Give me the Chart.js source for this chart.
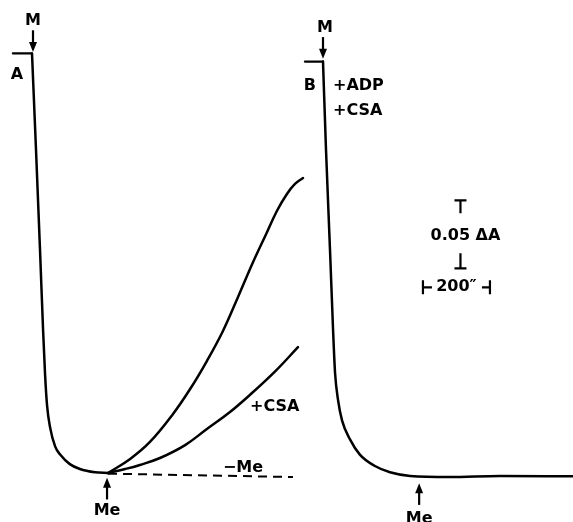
<!DOCTYPE html>
<html><head><meta charset="utf-8">
<script src="https://cdn.jsdelivr.net/npm/chart.js@4/dist/chart.umd.min.js"></script>
<style>html,body{margin:0;padding:0;background:#fff}#wrap{width:573px;height:522px}</style>
</head><body><div id="wrap"><canvas id="c" width="573" height="522"></canvas></div>
<script>
// ---- Data (time in s after M addition, absorbance change ΔA) ----
// Panel A: baseline before M, then decay after M
const timeBaseA = [-57, 0];
const absBaseA  = [0.310, 0.310];
const timeA   = [0, 12, 24, 33, 39, 45, 54, 69, 84, 113, 143, 188, 227];
const absA    = [0.310, 0.239, 0.165, 0.107, 0.074, 0.051, 0.035, 0.021, 0.015, 0.008, 0.0044, 0.002, 0.0015];
// Panel A, + Me (no inhibitor)
const timeMe  = [227, 293, 352, 421, 472, 522, 570, 615, 660, 699, 731, 761, 785, 809];
const absMe   = [0.0015, 0.0118, 0.0243, 0.0449, 0.0632, 0.0838, 0.1059, 0.1309, 0.1566, 0.1772, 0.1941, 0.2066, 0.2140, 0.2184];
// Panel A, + Me + CSA
const timeCSA = [227, 278, 322, 382, 457, 522, 591, 651, 725, 794];
const absCSA  = [0.0015, 0.0044, 0.0074, 0.0125, 0.022, 0.0338, 0.0463, 0.059, 0.076, 0.094];
// Panel A, − Me (dashed)
const timeNoMe = [227, 779];
const absNoMe  = [0.001, -0.0015];
// Panel B: + ADP + CSA
const timeBaseB = [-54, 0];
const absBaseB  = [0.304, 0.304];
const timeB   = [0, 9, 21, 30, 36, 45, 57, 81, 110, 155, 200, 260, 379, 528, 746];
const absB    = [0.304, 0.239, 0.165, 0.107, 0.075, 0.055, 0.040, 0.026, 0.015, 0.0066, 0.002, -0.0007, -0.0015, -0.0007, -0.0010];
// Scale bars
const scaleAbs = 0.05;   // ΔA
const scaleTime = 200;   // s

const pts = (xs, ys) => xs.map((x, i) => ({x, y: ys[i]}));

// Text labels: [text, axis, t, ΔA, align]
const labels = [
  ['M', 'xA', 3, 0.334, 'center'],
  ['A', 'xA', -45, 0.294, 'center'],
  ['+CSA', 'xA', 651, 0.050, 'left'],
  ['\u2212Me', 'xA', 570, 0.005, 'left'],
  ['Me', 'xA', 224, -0.026, 'center'],
  ['M', 'xB', 6, 0.329, 'center'],
  ['B', 'xB', -39, 0.286, 'center'],
  ['+ADP', 'xB', 30, 0.286, 'left'],
  ['+CSA', 'xB', 30, 0.268, 'left'],
  ['Me', 'xB', 287, -0.032, 'center']
];
// Arrows: [axis, t, ΔA from, ΔA to(tip)]
const arrows = [
  ['xA', 3, 0.327, 0.311],
  ['xB', 0, 0.322, 0.306],
  ['xA', 224, -0.018, -0.002],
  ['xB', 287, -0.022, -0.006]
];

const PXS = 0.335, PXA = 1360;
const decor = {
  id: 'decor',
  afterDatasetsDraw(chart) {
    const ctx = chart.ctx, s = chart.scales;
    ctx.save();
    ctx.fillStyle = '#000'; ctx.strokeStyle = '#000';
    ctx.font = 'bold 16px "DejaVu Sans"';
    ctx.textBaseline = 'middle';
    for (const [t, ax, x, y, al] of labels) {
      ctx.textAlign = al;
      ctx.fillText(t, s[ax].getPixelForValue(x), s.y.getPixelForValue(y));
    }
    ctx.lineWidth = 2.2;
    for (const [ax, x, y0, y1] of arrows) {
      const px = s[ax].getPixelForValue(x), p0 = s.y.getPixelForValue(y0), p1 = s.y.getPixelForValue(y1);
      const dir = Math.sign(p1 - p0);
      ctx.beginPath(); ctx.moveTo(px, p0); ctx.lineTo(px, p1 - dir * 8); ctx.stroke();
      ctx.beginPath(); ctx.moveTo(px, p1); ctx.lineTo(px - 4, p1 - dir * 10); ctx.lineTo(px + 4, p1 - dir * 10); ctx.closePath(); ctx.fill();
    }
    // vertical scale bar (ΔA)
    const bx = s.xA.getPixelForValue(1279);
    const top = s.y.getPixelForValue(0.202), bot = s.y.getPixelForValue(0.202 - scaleAbs);
    ctx.lineWidth = 2.2;
    ctx.beginPath();
    ctx.moveTo(bx - 6, top); ctx.lineTo(bx + 6, top);
    ctx.moveTo(bx, top); ctx.lineTo(bx, top + 13);
    ctx.moveTo(bx, bot - 15); ctx.lineTo(bx, bot);
    ctx.moveTo(bx - 6, bot); ctx.lineTo(bx + 6, bot);
    ctx.stroke();
    ctx.textAlign = 'center';
    ctx.fillText(scaleAbs.toFixed(2) + ' \u0394A', bx + 5, (top + bot) / 2 + 2);
    // horizontal scale bar (time)
    const l = s.xA.getPixelForValue(1167), r = s.xA.getPixelForValue(1167 + scaleTime);
    const hy = s.y.getPixelForValue(0.138);
    ctx.beginPath();
    ctx.moveTo(l, hy - 7); ctx.lineTo(l, hy + 7);
    ctx.moveTo(l, hy); ctx.lineTo(l + 9, hy);
    ctx.moveTo(r - 8, hy); ctx.lineTo(r, hy);
    ctx.moveTo(r, hy - 7); ctx.lineTo(r, hy + 7);
    ctx.stroke();
    ctx.fillText(scaleTime + '\u2033', (l + r) / 2, hy);
    ctx.restore();
  }
};

const line = (data, axis, extra) => Object.assign({
  data, xAxisID: axis, showLine: true, borderColor: '#000', borderWidth: 2.5,
  pointRadius: 0, cubicInterpolationMode: 'monotone', clip: false, fill: false,
  borderCapStyle: 'round', borderJoinStyle: 'round'
}, extra || {});
const smooth = {cubicInterpolationMode: 'default', tension: 0.4};

new Chart(document.getElementById('c'), {
  type: 'scatter',
  data: { datasets: [
    line(pts(timeBaseA, absBaseA), 'xA', {cubicInterpolationMode: 'default', tension: 0, borderWidth: 2.2}),
    line(pts(timeA, absA), 'xA'),
    line(pts(timeMe, absMe), 'xA', smooth),
    line(pts(timeCSA, absCSA), 'xA', smooth),
    line(pts(timeNoMe, absNoMe), 'xA', {borderDash: [9, 6], borderWidth: 2, borderCapStyle: 'butt'}),
    line(pts(timeBaseB, absBaseB), 'xB', {cubicInterpolationMode: 'default', tension: 0, borderWidth: 2.2}),
    line(pts(timeB, absB), 'xB')
  ]},
  options: {
    responsive: false, animation: false, devicePixelRatio: 1,
    layout: { padding: 0 },
    plugins: { legend: { display: false }, tooltip: { enabled: false } },
    scales: {
      xA: { type: 'linear', display: false, min: -32 / PXS, max: (573 - 32) / PXS },
      xB: { type: 'linear', display: false, min: -323 / PXS, max: (573 - 323) / PXS },
      y:  { type: 'linear', display: false, min: (475 - 522) / PXA, max: 475 / PXA }
    }
  },
  plugins: [decor]
});
</script></body></html>
